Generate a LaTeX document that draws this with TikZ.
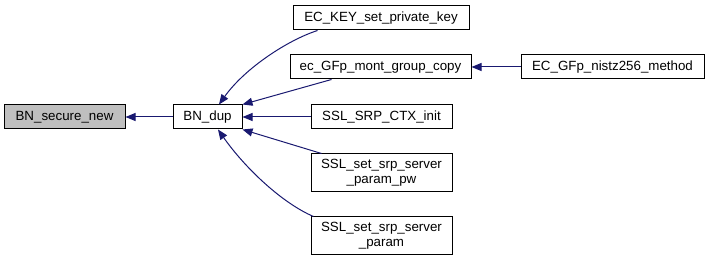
\documentclass[tikz,border=0pt]{standalone}
\usepackage{fontspec}
\setmainfont{Liberation Sans}
\usetikzlibrary{arrows.meta,calc}
\definecolor{edgeblue}{HTML}{191970}
\definecolor{rootgray}{HTML}{BFBFBF}
\tikzset{
  fn/.style={draw=black, line width=0.75pt, fill=white, inner sep=0pt,
    align=center, font=\fontsize{10pt}{11pt}\selectfont},
  rootfn/.style={fn, fill=rootgray},
  call/.style={draw=edgeblue, line width=0.75pt,
    -{Triangle[length=7.5pt,width=6pt]}, fill=none},
}
\begin{document}
\begin{tikzpicture}[x=0.75pt,y=-0.75pt]
\useasboundingbox (0,0) rectangle (708,260);
% function boxes
\node[rootfn, minimum width=121*0.75pt, minimum height=24*0.75pt] (sn) at (64.5,117) {BN\_secure\_new};
\node[fn, minimum width=69*0.75pt, minimum height=24*0.75pt] (dup) at (207.5,117) {BN\_dup};
\node[fn, minimum width=176*0.75pt, minimum height=24*0.75pt] (ek) at (381,18) {EC\_KEY\_set\_private\_key};
\node[fn, minimum width=181*0.75pt, minimum height=24*0.75pt] (mg) at (380.5,67) {ec\_GFp\_mont\_group\_copy};
\node[fn, minimum width=183*0.75pt, minimum height=24*0.75pt] (nz) at (612.5,67) {EC\_GFp\_nistz256\_method};
\node[fn, minimum width=141*0.75pt, minimum height=24*0.75pt] (ctx) at (381.5,117) {SSL\_SRP\_CTX\_init};
\node[fn, minimum width=141*0.75pt, minimum height=38*0.75pt] (pw) at (381.5,173) {SSL\_set\_srp\_server\\\_param\_pw};
\node[fn, minimum width=141*0.75pt, minimum height=37*0.75pt] (sp) at (381.5,235.5) {SSL\_set\_srp\_server\\\_param};
% call edges (caller -> callee)
\draw[call] (dup.west) -- (sn.east);
\draw[call] (nz.west) -- (mg.east);
\draw[call] (ctx.west) -- (dup.east);
\draw[call] ($(mg.south west)+(42,0)$) -- (dup.north east);
\draw[call] ($(pw.north west)+(11,0)$) -- (dup.south east);
\draw[call] ($(ek.south west)+(25,0)$) .. controls (288,40) and (245,68) .. ($(dup.north)+(11.5,0)$);
\draw[call] ($(sp.north west)+(3,0)$) .. controls (282,203) and (245,168) .. ($(dup.south)+(10.5,0)$);
\end{tikzpicture}
\end{document}
